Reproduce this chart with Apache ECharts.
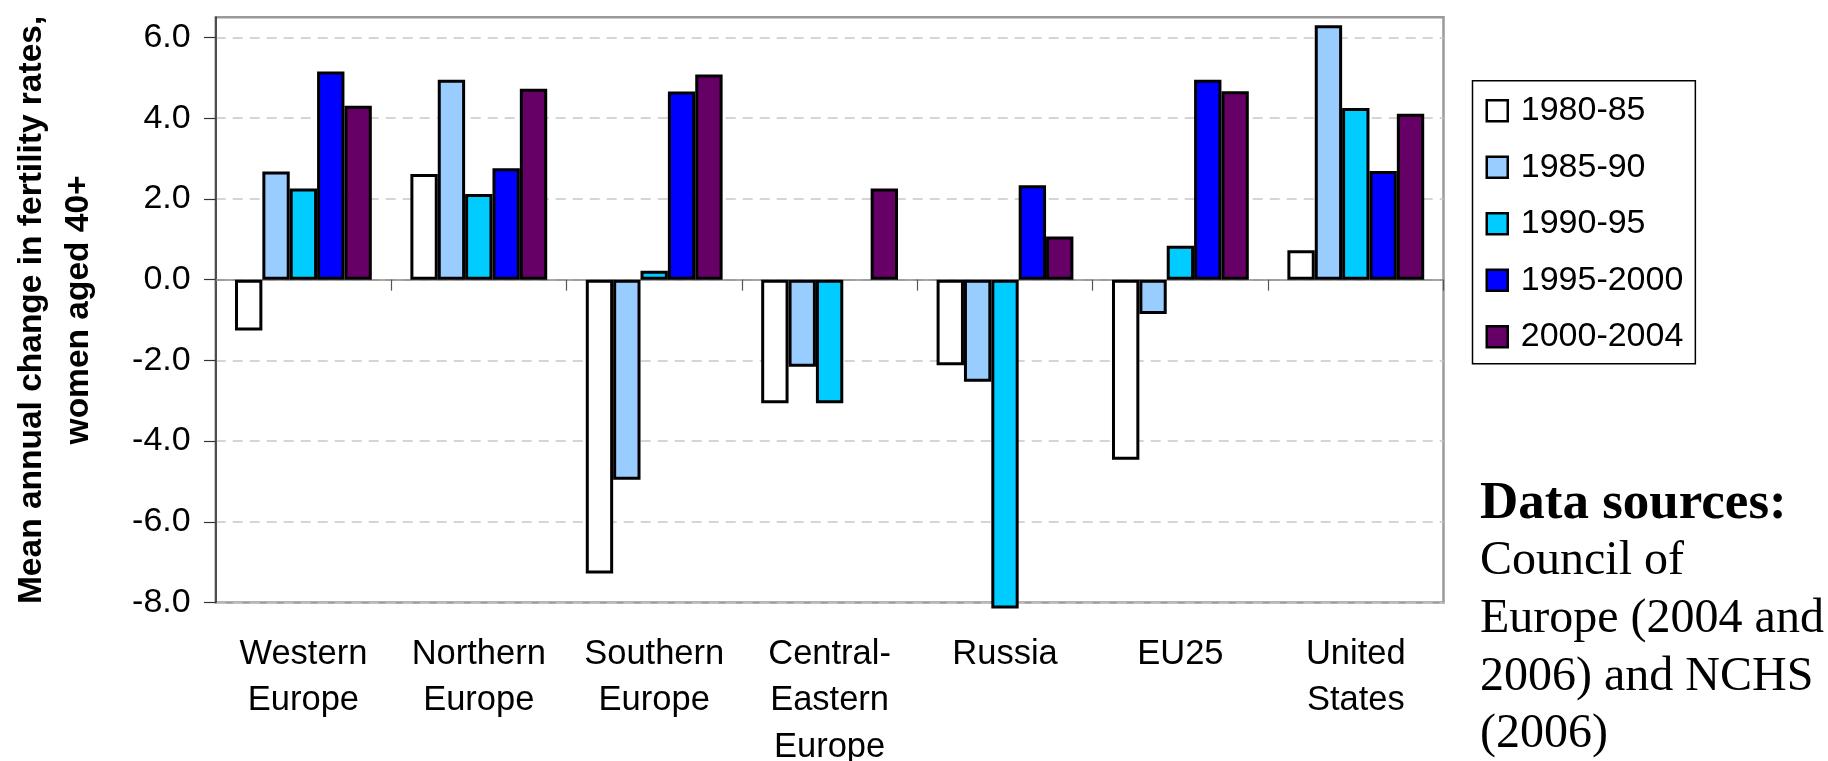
<!DOCTYPE html>
<html>
<head>
<meta charset="utf-8">
<title>Mean annual change in fertility rates, women aged 40+</title>
<script src="https://cdn.jsdelivr.net/npm/echarts@6/dist/echarts.min.js"></script>
<style>
  html, body { margin: 0; padding: 0; background: #fff; }
  #chart { width: 1828px; height: 761px; }
</style>
</head>
<body>
<div id="chart"></div>
<script>
// Regions on the category axis
const regions = ['Western\nEurope', 'Northern\nEurope', 'Southern\nEurope',
  'Central-\nEastern\nEurope', 'Russia', 'EU25', 'United\nStates'];

// Mean annual change per period (null = no data)
const p1980_85   = [-1.26, 2.62, -7.28, -3.06, -2.12, -4.46, 0.73];
const p1985_90   = [2.68, 4.95, -4.96, -2.16, -2.53, -0.85, 6.30];
const p1990_95   = [2.26, 2.12, 0.22, -3.06, -8.15, 0.84, 4.25];
const p1995_2000 = [5.16, 2.76, 4.66, null, 2.34, 4.95, 2.69];
const p2000_2004 = [4.31, 4.73, 5.08, 2.26, 1.07, 4.67, 4.11];

const periodNames = ['1980-85', '1985-90', '1990-95', '1995-2000', '2000-2004'];
const periodData = [p1980_85, p1985_90, p1990_95, p1995_2000, p2000_2004];
const periodColors = ['#ffffff', '#99ccff', '#00ccff', '#0000ff', '#660066'];

// Value axis tick labels
const yTicks = [-8, -6, -4, -2, 0, 2, 4, 6];

const sourceLines = ['Council of', 'Europe (2004 and', '2006) and NCHS', '(2006)'];

const SANS = '"Liberation Sans", Arial, sans-serif';
const SERIF = '"Liberation Serif", "Times New Roman", serif';

const chart = echarts.init(document.getElementById('chart'));

const series = periodNames.map((name, i) => ({
  name: name,
  type: 'bar',
  data: periodData[i],
  barGap: '0%',
  barCategoryGap: '22%',
  clip: false,
  itemStyle: { color: periodColors[i], borderColor: '#000', borderWidth: 3 }
}));

chart.setOption({
  animation: false,
  backgroundColor: '#fff',
  textStyle: { fontFamily: SANS, color: '#000' },
  grid: {
    left: 215.7, top: 17.3, right: 384.5, bottom: 158.5,
    containLabel: false, outerBoundsMode: 'none',
    show: true, borderColor: '#9a9a9a', borderWidth: 2.5, backgroundColor: 'transparent'
  },
  legend: {
    orient: 'vertical',
    left: 1472.5, top: 80.7,
    padding: [13, 12, 10, 13],
    icon: 'rect',
    itemWidth: 21, itemHeight: 21,
    itemGap: 22.5,
    borderColor: '#000', borderWidth: 1.5,
    itemStyle: { borderColor: '#000', borderWidth: 2.5 },
    textStyle: { fontFamily: SANS, fontSize: 34, lineHeight: 34, color: '#000', padding: [0, 0, 0, 8] },
    data: periodNames
  },
  xAxis: [
    {
      type: 'category', data: regions, position: 'bottom',
      axisLine: { show: false, onZero: false },
      axisTick: { show: false },
      axisLabel: { interval: 0, fontFamily: SANS, fontSize: 34.5, lineHeight: 46.5, margin: 28.5, color: '#000' }
    },
    {
      type: 'category', data: regions, position: 'bottom',
      axisLine: { show: true, onZero: true, lineStyle: { color: '#8a8a8a', width: 1.5 } },
      axisTick: { show: true, length: 11, lineStyle: { color: '#555', width: 1.2 } },
      axisLabel: { show: false }
    }
  ],
  yAxis: {
    type: 'value', min: -8, max: 6.5, interval: 2,
    axisLine: { show: true, lineStyle: { color: '#333', width: 1.5 } },
    axisTick: { show: true, length: 11.7, customValues: yTicks, lineStyle: { color: '#333', width: 1.2 } },
    axisLabel: {
      customValues: yTicks,
      fontFamily: SANS, fontSize: 34, margin: 25, color: '#000',
      formatter: v => (yTicks.indexOf(v) >= 0 ? v.toFixed(1) : '')
    },
    splitLine: { show: true, lineStyle: { type: [10, 7], color: '#c8c8c8', width: 1.5 } },
    name: 'Mean annual change in fertility rates,\nwomen aged 40+',
    nameLocation: 'middle', nameRotate: 90, nameGap: 113,
    nameTextStyle: { fontFamily: SANS, fontWeight: 'bold', fontSize: 33.5, lineHeight: 47, color: '#000' }
  },
  graphic: [{
    type: 'text', left: 1480, top: 475,
    style: {
      text: '{b|Data sources:}\n' + sourceLines.join('\n'),
      fontFamily: SERIF, fontSize: 48, lineHeight: 57.7, fill: '#000',
      rich: { b: { fontFamily: SERIF, fontWeight: 'bold', fontSize: 53, lineHeight: 57.7 } }
    }
  }],
  series: series
});
</script>
</body>
</html>
